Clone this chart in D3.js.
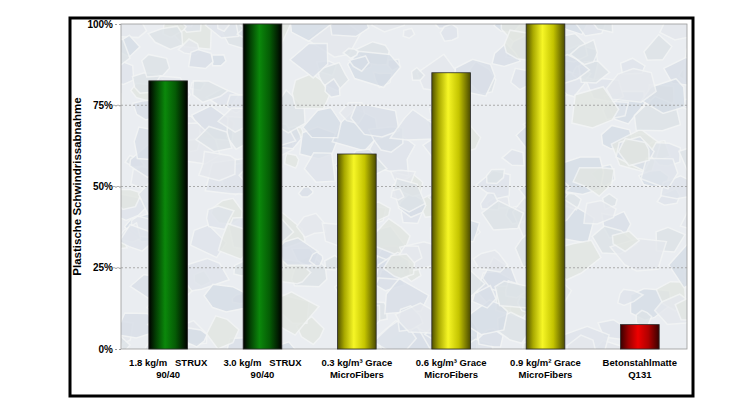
<!DOCTYPE html>
<html>
<head>
<meta charset="utf-8">
<script src="https://cdn.jsdelivr.net/npm/d3@7/dist/d3.min.js"></script>
<style>
  body { margin: 0; background: #fff; }
  svg { display: block; font-family: "Liberation Sans", Arial, sans-serif; }
</style>
</head>
<body>
<svg id="chart" width="756" height="408"></svg>
<script>
// data
var categories = ['c1', 'c2', 'c3', 'c4', 'c5', 'c6'];
var labelLine1 = ['1.8 kg/m   STRUX', '3.0 kg/m   STRUX', '0.3 kg/m\u00b3 Grace', '0.6 kg/m\u00b3 Grace', '0.9 kg/m\u00b2 Grace', 'Betonstahlmatte'];
var labelLine2 = ['90/40', '90/40', 'MicroFibers', 'MicroFibers', 'MicroFibers', 'Q131'];
var values = [0.825, 1.0, 0.60, 0.85, 1.0, 0.075];
var material = ['strux', 'strux', 'grace', 'grace', 'grace', 'steel'];
var yTicks = [0, 0.25, 0.5, 0.75, 1.0];
var yTitle = 'Plastische Schwindrissabnahme';

var svg = d3.select('#chart');
var plot = {left: 121, right: 687, top: 24, bottom: 349};

var x = d3.scaleBand().domain(categories)
	.range([plot.left, plot.right])
	.paddingInner(0.59).paddingOuter(0.295);
var y = d3.scaleLinear().domain([0, 1]).range([plot.bottom, plot.top]);

var defs = svg.append('defs');

// bar gradients, one per material
var gradStops = {
	strux: [[0, '#000000'], [0.18, '#033f03'], [0.42, '#0b880b'], [0.68, '#055d05'], [1, '#000000']],
	grace: [[0, '#505000'], [0.18, '#a9a900'], [0.42, '#f6f626'], [0.7, '#c4c400'], [1, '#4a4a00']],
	steel: [[0, '#380000'], [0.2, '#9a0000'], [0.45, '#ee0000'], [0.72, '#b00000'], [1, '#380000']]
};
Object.keys(gradStops).forEach(function(k) {
	var g = defs.append('linearGradient').attr('id', 'g-' + k)
		.attr('x1', '0%').attr('x2', '100%').attr('y1', '0%').attr('y2', '0%');
	gradStops[k].forEach(function(s) {
		g.append('stop').attr('offset', s[0]).attr('stop-color', s[1]);
	});
});

defs.append('clipPath').attr('id', 'plot-clip')
	.append('rect')
	.attr('x', plot.left).attr('y', plot.top)
	.attr('width', plot.right - plot.left).attr('height', plot.bottom - plot.top);

// outer frame
svg.append('rect')
	.attr('x', 70).attr('y', 18).attr('width', 623).attr('height', 378)
	.attr('fill', '#fff').attr('stroke', '#000').attr('stroke-width', 3);

// concrete-like backdrop (decoration only, seeded so it is always the same)
var bg = svg.append('g').attr('clip-path', 'url(#plot-clip)');
bg.append('rect')
	.attr('x', plot.left).attr('y', plot.top)
	.attr('width', plot.right - plot.left).attr('height', plot.bottom - plot.top)
	.attr('fill', '#eaedf1');

var rnd = d3.randomLcg(0.4271);
var stoneCols = ['#dfe4eb', '#d9dfe8', '#e5e8ed', '#dde3e7', '#e2e6e2', '#d6dde6'];
for (var i = 0; i < 320; i++) {
	var cx = plot.left - 20 + rnd() * (plot.right - plot.left + 40),
		cy = plot.top - 20 + rnd() * (plot.bottom - plot.top + 40),
		r = 8 + rnd() * 22,
		n = 5 + Math.floor(rnd() * 3),
		a0 = rnd() * Math.PI * 2,
		pts = [];
	for (var j = 0; j < n; j++) {
		var a = a0 + j / n * Math.PI * 2 + (rnd() - 0.5) * 0.6,
			rr = r * (0.6 + rnd() * 0.5);
		pts.push([cx + Math.cos(a) * rr, cy + Math.sin(a) * rr * 0.8]);
	}
	bg.append('polygon')
		.attr('points', pts.map(function(p) { return p.join(','); }).join(' '))
		.attr('fill', stoneCols[Math.floor(rnd() * stoneCols.length)])
		.attr('stroke', '#f3f5f5').attr('stroke-width', 1.5)
		.attr('opacity', 0.8);
}

// plot area border
svg.append('rect')
	.attr('x', plot.left).attr('y', plot.top)
	.attr('width', plot.right - plot.left).attr('height', plot.bottom - plot.top)
	.attr('fill', 'none').attr('stroke', '#9a9a9a').attr('stroke-width', 0.8);

// grid lines
svg.append('g').selectAll('line')
	.data(yTicks.filter(function(t) { return t > 0 && t < 1; }))
	.join('line')
	.attr('x1', plot.left - 8).attr('x2', plot.right)
	.attr('y1', function(d) { return y(d); }).attr('y2', function(d) { return y(d); })
	.attr('stroke', '#9a9a9a').attr('stroke-width', 0.8).attr('stroke-dasharray', '2,2');

// y axis
var yAxis = svg.append('g')
	.attr('transform', 'translate(' + plot.left + ',0)')
	.call(d3.axisLeft(y).tickValues(yTicks).tickFormat(d3.format('.0%')).tickSize(6).tickPadding(2));
yAxis.select('.domain').remove();
yAxis.selectAll('.tick line').attr('stroke', '#9a9a9a').attr('stroke-dasharray', '2,2');
yAxis.selectAll('.tick text')
	.attr('font-size', 10).attr('font-weight', 'bold').attr('fill', '#000')
	.attr('font-family', '"Liberation Sans", Arial, sans-serif');

svg.append('text')
	.attr('transform', 'translate(81,' + ((plot.top + plot.bottom) / 2) + ') rotate(-90)')
	.attr('text-anchor', 'middle')
	.attr('font-size', 11.5).attr('font-weight', 'bold')
	.text(yTitle);

// bars
svg.append('g').selectAll('rect')
	.data(values)
	.join('rect')
	.attr('x', function(d, i) { return x(categories[i]); })
	.attr('width', x.bandwidth())
	.attr('y', function(d) { return y(d); })
	.attr('height', function(d) { return y(0) - y(d); })
	.attr('fill', function(d, i) { return 'url(#g-' + material[i] + ')'; })
	.attr('stroke', '#2a2a2a').attr('stroke-width', 0.8);

// x labels
var xl = svg.append('g').selectAll('text')
	.data(categories)
	.join('text')
	.attr('x', function(d) { return x(d) + x.bandwidth() / 2; })
	.attr('y', 366)
	.attr('text-anchor', 'middle')
	.attr('font-size', 9.5).attr('font-weight', 'bold')
	.style('white-space', 'pre');
xl.append('tspan').text(function(d, i) { return labelLine1[i]; });
xl.append('tspan')
	.attr('x', function(d) { return x(d) + x.bandwidth() / 2; })
	.attr('dy', 12)
	.text(function(d, i) { return labelLine2[i]; });
</script>
</body>
</html>
